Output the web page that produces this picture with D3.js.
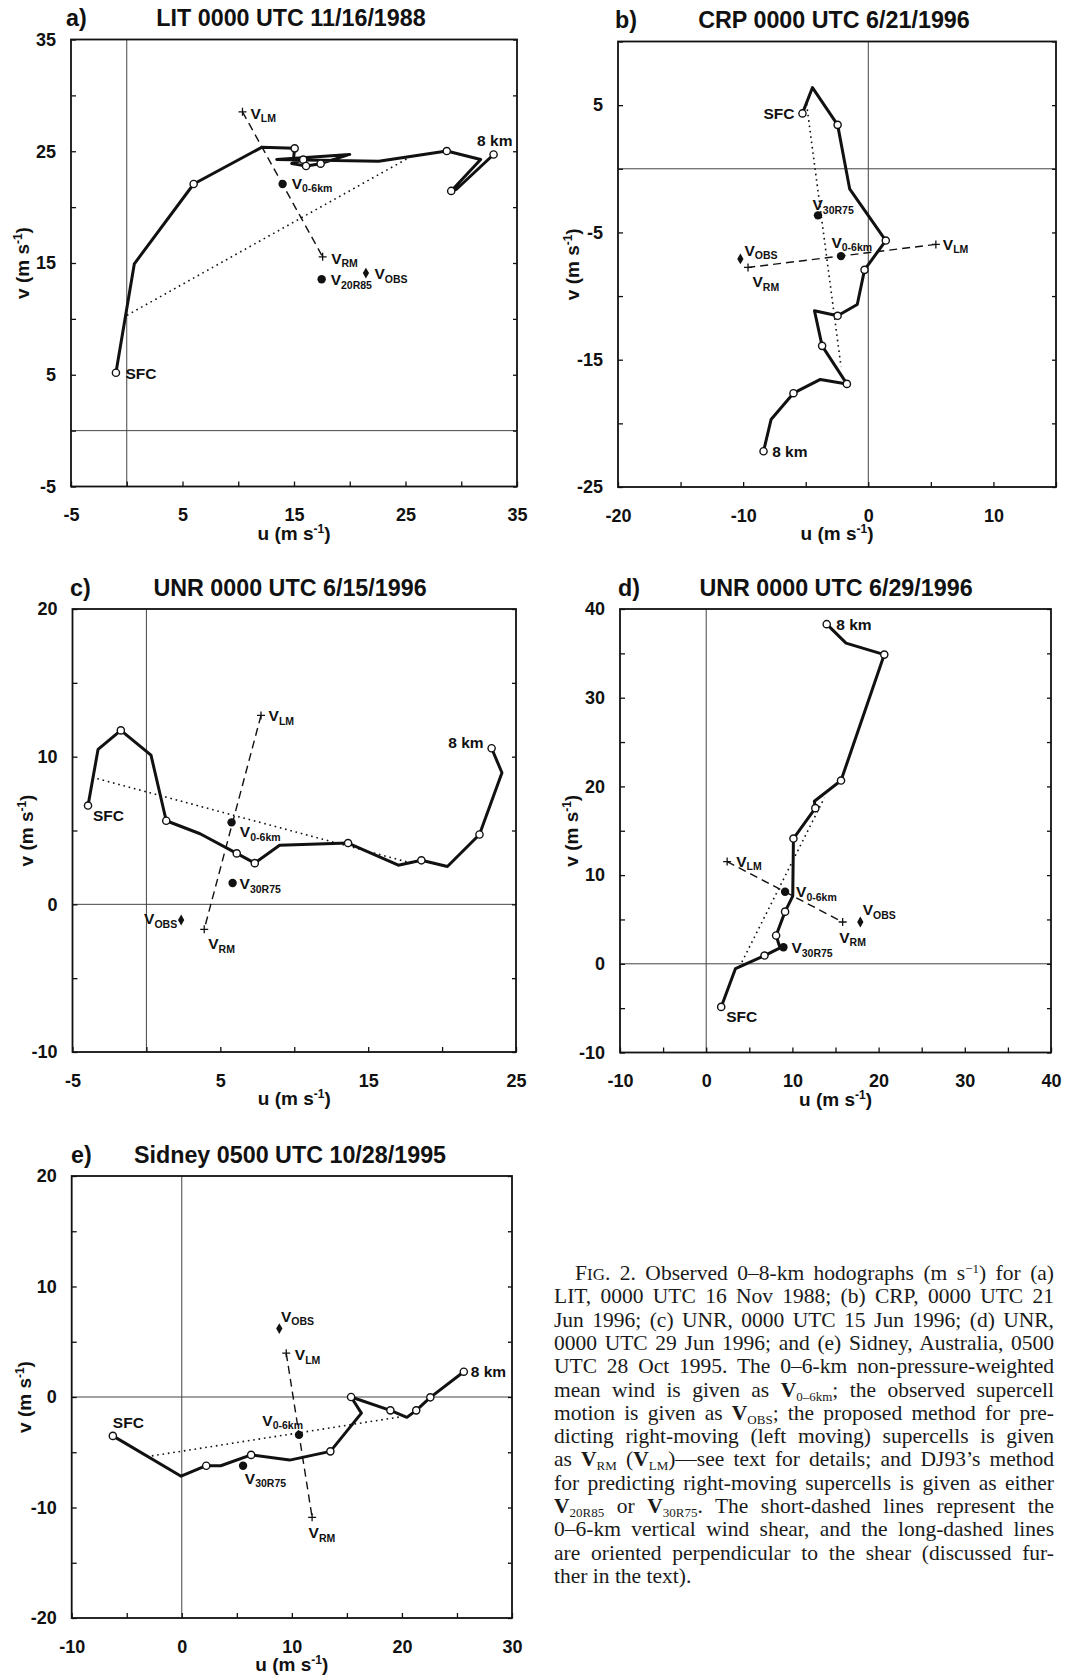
<!DOCTYPE html>
<html>
<head>
<meta charset="utf-8">
<script src="https://cdn.jsdelivr.net/npm/d3@7"></script>
<style>
  body { margin: 0; background: #fff; }
  svg { display: block; }
  .tick text { font-family: "Liberation Sans", Arial, sans-serif; font-weight: bold; font-size: 18px; fill: #111; }
  .ttl { font-family: "Liberation Sans", Arial, sans-serif; font-weight: bold; font-size: 23.3px; fill: #111; }
  .axt { font-family: "Liberation Sans", Arial, sans-serif; font-weight: bold; font-size: 19px; fill: #111; }
  .lab { font-family: "Liberation Sans", Arial, sans-serif; font-weight: bold; font-size: 15.5px; fill: #111; }
  .cap { font-family: "Liberation Serif", "Times New Roman", serif; font-size: 21.5px; fill: #1a1a1a; }
</style>
</head>
<body>
<svg id="fig" width="1071" height="1680"></svg>
<script>
// ---- a) LIT 0000 UTC 11/16/1988 ----
var litU = [-0.97, 0.68, 6.0, 12.1, 15.06, 14.95, 15.83, 14.8, 16.08, 17.39, 20.0, 13.45, 22.6, 28.7, 31.74, 29.1, 29.57, 32.9];
var litV = [5.18, 14.93, 22.07, 25.35, 25.26, 24.3, 24.25, 23.9, 23.68, 23.89, 24.72, 24.27, 24.1, 25.02, 24.26, 21.45, 21.6, 24.71];
var litRings = [0, 2, 4, 6, 8, 9, 13, 15, 17];
var litShearU = [0.02, 25.39], litShearV = [10.32, 24.47];
var litDevU = [10.38, 17.57], litDevV = [28.53, 15.55];   // V_LM, V_RM
var litMean = [13.98, 22.07];
var litDJ = [17.48, 13.55];
var litObs = [21.45, 14.1];
var litXTicks = [-5, 0, 5, 10, 15, 20, 25, 30, 35], litXLabels = [-5, 5, 15, 25, 35];
var litYTicks = [-5, 0, 5, 10, 15, 20, 25, 30, 35], litYLabels = [-5, 5, 15, 25, 35];

// ---- b) CRP 0000 UTC 6/21/1996 ----
var crpU = [-5.26, -4.46, -2.45, -1.49, 1.40, -0.30, -0.88, -2.45, -4.30, -3.69, -1.71, -3.83, -5.98, -7.77, -8.37];
var crpV = [4.35, 6.38, 3.45, -1.57, -5.64, -7.94, -10.66, -11.55, -11.15, -13.91, -16.9, -16.55, -17.63, -19.7, -22.19];
var crpRings = [0, 2, 4, 5, 7, 9, 10, 12, 14];
var crpShearU = [-4.93, -2.18], crpShearV = [5.08, -15.54];
var crpDevU = [5.40, -9.61], crpDevV = [-5.94, -7.75];
var crpMean = [-2.18, -6.86];
var crpDJ = [-4.02, -3.66];
var crpObs = [-10.22, -7.08];
var crpXTicks = [-20, -15, -10, -5, 0, 5, 10, 15], crpXLabels = [-20, -10, 0, 10];
var crpYTicks = [-25, -20, -15, -10, -5, 0, 5, 10], crpYLabels = [-25, -15, -5, 5];

// ---- c) UNR 0000 UTC 6/15/1996 ----
var unr15U = [-3.95, -3.27, -1.73, 0.31, 1.34, 3.63, 6.11, 7.33, 9.01, 13.64, 17.04, 18.6, 20.36, 22.53, 24.05, 23.35];
var unr15V = [6.69, 10.5, 11.78, 10.1, 5.66, 4.78, 3.45, 2.79, 4.0, 4.15, 2.65, 2.98, 2.56, 4.73, 8.91, 10.57];
var unr15Rings = [0, 2, 4, 6, 7, 9, 11, 13, 15];
var unr15ShearU = [-3.32, 18.09], unr15ShearV = [8.51, 2.75];
var unr15DevU = [7.75, 3.91], unr15DevV = [12.79, -1.69];
var unr15Mean = [5.76, 5.55];
var unr15DJ = [5.83, 1.44];
var unr15Obs = [2.35, -1.06];
var unr15XTicks = [-5, 0, 5, 10, 15, 20, 25], unr15XLabels = [-5, 5, 15, 25];
var unr15YTicks = [-10, -5, 0, 5, 10, 15, 20], unr15YLabels = [-10, 0, 10, 20];

// ---- d) UNR 0000 UTC 6/29/1996 ----
var unr29U = [1.74, 3.40, 6.76, 8.57, 8.11, 9.15, 10.04, 10.12, 12.66, 12.55, 15.64, 20.66, 16.22, 13.98];
var unr29V = [-4.86, -0.54, 0.93, 1.79, 3.19, 5.88, 7.63, 14.12, 17.55, 18.33, 20.66, 34.86, 36.15, 38.29];
var unr29Rings = [0, 2, 4, 5, 7, 8, 10, 11, 13];
var unr29ShearU = [3.86, 13.71], unr29ShearV = [-0.35, 18.72];
var unr29DevU = [2.43, 15.83], unr29DevV = [11.52, 4.71];
var unr29Mean = [9.15, 8.13];
var unr29DJ = [8.96, 1.87];
var unr29Obs = [17.88, 4.71];
var unr29XTicks = [-10, -5, 0, 5, 10, 15, 20, 25, 30, 35, 40], unr29XLabels = [-10, 0, 10, 20, 30, 40];
var unr29YTicks = [-10, -5, 0, 5, 10, 15, 20, 25, 30, 35, 40], unr29YLabels = [-10, 0, 10, 20, 30, 40];

// ---- e) Sidney 0500 UTC 10/28/1995 ----
var sidU = [-6.26, -0.06, 2.22, 3.54, 6.30, 9.80, 13.5, 16.32, 15.38, 18.95, 20.45, 21.3, 22.58, 25.62];
var sidV = [-3.52, -7.17, -6.22, -6.22, -5.24, -5.71, -4.92, -1.46, 0.0, -1.21, -1.84, -1.21, -0.03, 2.29];
var sidRings = [0, 2, 4, 6, 8, 9, 11, 12, 13];
var sidShearU = [-2.72, 19.98], sidShearV = [-5.33, -1.78];
var sidDevU = [9.49, 11.84], sidDevV = [3.97, -10.89];
var sidMean = [10.65, -3.43];
var sidDJ = [5.57, -6.22];
var sidObs = [8.86, 6.19];
var sidXTicks = [-10, -5, 0, 5, 10, 15, 20, 25, 30], sidXLabels = [-10, 0, 10, 20, 30];
var sidYTicks = [-20, -15, -10, -5, 0, 5, 10, 15, 20], sidYLabels = [-20, -10, 0, 10, 20];

// caption, one array entry per printed line: [style, text]
var captionLines = [
  [['n', 'F'], ['sc', 'IG'], ['n', '. 2. Observed 0–8-km hodographs (m s'], ['sup', '−1'], ['n', ') for (a)']],
  [['n', 'LIT, 0000 UTC 16 Nov 1988; (b) CRP, 0000 UTC 21']],
  [['n', 'Jun 1996; (c) UNR, 0000 UTC 15 Jun 1996; (d) UNR,']],
  [['n', '0000 UTC 29 Jun 1996; and (e) Sidney, Australia, 0500']],
  [['n', 'UTC 28 Oct 1995. The 0–6-km non-pressure-weighted']],
  [['n', 'mean wind is given as '], ['b', 'V'], ['sub', '0–6km'], ['n', '; the observed supercell']],
  [['n', 'motion is given as '], ['b', 'V'], ['sub', 'OBS'], ['n', '; the proposed method for pre-']],
  [['n', 'dicting right-moving (left moving) supercells is given']],
  [['n', 'as '], ['b', 'V'], ['sub', 'RM'], ['n', ' ('], ['b', 'V'], ['sub', 'LM'], ['n', ')—see text for details; and DJ93’s method']],
  [['n', 'for predicting right-moving supercells is given as either']],
  [['b', 'V'], ['sub', '20R85'], ['n', ' or '], ['b', 'V'], ['sub', '30R75'], ['n', '. The short-dashed lines represent the']],
  [['n', '0–6-km vertical wind shear, and the long-dashed lines']],
  [['n', 'are oriented perpendicular to the shear (discussed fur-']],
  [['n', 'ther in the text).']]
];

// layout of the five panels
var panels = [
  {id: 'a)', title: 'LIT 0000 UTC 11/16/1988', u: litU, v: litV, rings: litRings,
   shearU: litShearU, shearV: litShearV, devU: litDevU, devV: litDevV,
   mean: litMean, dj: litDJ, djSub: '20R85', obs: litObs,
   xTicks: litXTicks, xLabels: litXLabels, yTicks: litYTicks, yLabels: litYLabels,
   box: {l: 71, r: 517, t: 39.5, b: 486.5}, titleX: 291, titleY: 26, idX: 66, yTitleX: 22,
   off: {lm: [8, 7], rm: [8.5, 7], mean: [9, 5], dj: [9, 6], obs: [8.5, 6], sfc: [9.5, 6], top: [-16.5, -8.5]}},
  {id: 'b)', title: 'CRP 0000 UTC 6/21/1996', u: crpU, v: crpV, rings: crpRings,
   shearU: crpShearU, shearV: crpShearV, devU: crpDevU, devV: crpDevV,
   mean: crpMean, dj: crpDJ, djSub: '30R75', obs: crpObs,
   xTicks: crpXTicks, xLabels: crpXLabels, yTicks: crpYTicks, yLabels: crpYLabels,
   box: {l: 618, r: 1056, t: 41.5, b: 487}, titleX: 834, titleY: 28, idX: 615, yTitleX: 572,
   off: {lm: [7, 5.5], rm: [4.5, 20], mean: [-9.6, -8.6], dj: [-5.5, -5], obs: [4, -3], sfc: [-8, 6, 'end'], top: [8.6, 6]}},
  {id: 'c)', title: 'UNR 0000 UTC 6/15/1996', u: unr15U, v: unr15V, rings: unr15Rings,
   shearU: unr15ShearU, shearV: unr15ShearV, devU: unr15DevU, devV: unr15DevV,
   mean: unr15Mean, dj: unr15DJ, djSub: '30R75', obs: unr15Obs,
   xTicks: unr15XTicks, xLabels: unr15XLabels, yTicks: unr15YTicks, yLabels: unr15YLabels,
   box: {l: 72.5, r: 516, t: 609, b: 1052}, titleX: 290, titleY: 596, idX: 70, yTitleX: 26,
   off: {lm: [7.6, 6], rm: [4, 20], mean: [8.3, 14.8], dj: [7, 6], obs: [-4, 4.5, 'end'], sfc: [5, 15], top: [-8, -0.7, 'end']}},
  {id: 'd)', title: 'UNR 0000 UTC 6/29/1996', u: unr29U, v: unr29V, rings: unr29Rings,
   shearU: unr29ShearU, shearV: unr29ShearV, devU: unr29DevU, devV: unr29DevV,
   mean: unr29Mean, dj: unr29DJ, djSub: '30R75', obs: unr29Obs,
   xTicks: unr29XTicks, xLabels: unr29XLabels, yTicks: unr29YTicks, yLabels: unr29YLabels,
   box: {l: 620, r: 1051, t: 609, b: 1052.5}, titleX: 836, titleY: 596, idX: 618, yTitleX: 571,
   off: {lm: [9, 5], rm: [-3.4, 20.6], mean: [11, 5.5], dj: [8, 6], obs: [2.4, -7], sfc: [5, 15], top: [9.6, 5.5]}},
  {id: 'e)', title: 'Sidney 0500 UTC 10/28/1995', u: sidU, v: sidV, rings: sidRings,
   shearU: sidShearU, shearV: sidShearV, devU: sidDevU, devV: sidDevV,
   mean: sidMean, dj: sidDJ, djSub: '30R75', obs: sidObs,
   xTicks: sidXTicks, xLabels: sidXLabels, yTicks: sidYTicks, yLabels: sidYLabels,
   box: {l: 71.7, r: 512, t: 1176, b: 1618}, titleX: 290, titleY: 1163, idX: 71, yTitleX: 24,
   off: {lm: [8.6, 7], rm: [-3.5, 21], mean: [4, -9, 'end'], dj: [1.7, 18], obs: [1.7, -6.7], sfc: [0, -8], top: [7, 5]}}
];

var svg = d3.select('#fig');

function vLabel(g, x, y, sub, off) {
  var t = g.append('text').attr('class', 'lab')
      .attr('x', x + off[0]).attr('y', y + off[1])
      .attr('text-anchor', off[2] || 'start');
  t.append('tspan').text('V');
  t.append('tspan').attr('dy', 3.5).attr('font-size', 10.5).text(sub);
}

function plainLabel(g, x, y, txt, off) {
  g.append('text').attr('class', 'lab')
      .attr('x', x + off[0]).attr('y', y + off[1])
      .attr('text-anchor', off[2] || 'start')
      .text(txt);
}

function plus(g, x, y) {
  g.append('path')
      .attr('d', 'M' + (x - 4) + ',' + y + 'H' + (x + 4) + 'M' + x + ',' + (y - 4) + 'V' + (y + 4))
      .attr('stroke', '#111').attr('stroke-width', 1.3);
}

function drawPanel(p) {
  var b = p.box;
  var x = d3.scaleLinear().domain([p.xTicks[0], p.xTicks[p.xTicks.length - 1]]).range([b.l, b.r]);
  var y = d3.scaleLinear().domain([p.yTicks[0], p.yTicks[p.yTicks.length - 1]]).range([b.b, b.t]);
  var g = svg.append('g');

  // zero lines
  g.append('line').attr('x1', x(0)).attr('x2', x(0)).attr('y1', b.t).attr('y2', b.b)
      .attr('stroke', '#444').attr('stroke-width', 1);
  g.append('line').attr('x1', b.l).attr('x2', b.r).attr('y1', y(0)).attr('y2', y(0))
      .attr('stroke', '#444').attr('stroke-width', 1);

  // axes with inward ticks
  var fmtX = function(d) { return p.xLabels.indexOf(d) >= 0 ? String(d) : ''; };
  var fmtY = function(d) { return p.yLabels.indexOf(d) >= 0 ? String(d) : ''; };
  g.append('g').attr('transform', 'translate(0,' + b.b + ')')
      .call(d3.axisBottom(x).tickValues(p.xTicks).tickSizeInner(-5).tickSizeOuter(0).tickPadding(22).tickFormat(fmtX));
  g.append('g').attr('transform', 'translate(' + b.l + ',0)')
      .call(d3.axisLeft(y).tickValues(p.yTicks).tickSizeInner(-5).tickSizeOuter(0).tickPadding(15).tickFormat(fmtY));
  g.append('g').attr('transform', 'translate(' + b.r + ',0)')
      .call(d3.axisRight(y).tickValues(p.yTicks).tickSizeInner(-4).tickSizeOuter(0).tickFormat(''));
  g.selectAll('.domain').remove();
  g.selectAll('.tick line').attr('stroke', '#111').attr('stroke-width', 1.3);
  g.selectAll('.tick text').attr('font-size', null).attr('font-family', null);
  g.selectAll('.tick text').filter(function() { return this.textContent === ''; }).remove();

  // frame
  g.append('rect').attr('x', b.l).attr('y', b.t).attr('width', b.r - b.l).attr('height', b.b - b.t)
      .attr('fill', 'none').attr('stroke', '#111').attr('stroke-width', 1.8);

  // titles
  g.append('text').attr('class', 'ttl').attr('x', p.idX).attr('y', p.titleY).text(p.id);
  g.append('text').attr('class', 'ttl').attr('x', p.titleX).attr('y', p.titleY)
      .attr('text-anchor', 'middle').text(p.title);

  // axis titles
  var xt = g.append('text').attr('class', 'axt').attr('text-anchor', 'middle')
      .attr('x', (b.l + b.r) / 2).attr('y', b.b + 53);
  xt.append('tspan').text('u (m s');
  xt.append('tspan').attr('dy', -7).attr('font-size', 12).text('-1');
  xt.append('tspan').attr('dy', 7).text(')');
  var yt = g.append('text').attr('class', 'axt').attr('text-anchor', 'middle')
      .attr('transform', 'translate(' + (p.yTitleX + 7) + ',' + ((b.t + b.b) / 2) + ') rotate(-90)');
  yt.append('tspan').text('v (m s');
  yt.append('tspan').attr('dy', -7).attr('font-size', 12).text('-1');
  yt.append('tspan').attr('dy', 7).text(')');

  // 0-6 km shear (short dashes)
  g.append('line')
      .attr('x1', x(p.shearU[0])).attr('y1', y(p.shearV[0]))
      .attr('x2', x(p.shearU[1])).attr('y2', y(p.shearV[1]))
      .attr('stroke', '#111').attr('stroke-width', 1.6).attr('stroke-dasharray', '1.6,3.8');

  // perpendicular (long dashes) from V_LM to V_RM
  g.append('line')
      .attr('x1', x(p.devU[0])).attr('y1', y(p.devV[0]))
      .attr('x2', x(p.devU[1])).attr('y2', y(p.devV[1]))
      .attr('stroke', '#111').attr('stroke-width', 1.4).attr('stroke-dasharray', '8,5');

  // hodograph
  var pts = p.u.map(function(d, i) { return [d, p.v[i]]; });
  var line = d3.line().x(function(d) { return x(d[0]); }).y(function(d) { return y(d[1]); });
  g.append('path').datum(pts).attr('d', line)
      .attr('fill', 'none').attr('stroke', '#111').attr('stroke-width', 3).attr('stroke-linejoin', 'round');
  g.selectAll('.ring').data(p.rings).enter().append('circle')
      .attr('cx', function(i) { return x(p.u[i]); })
      .attr('cy', function(i) { return y(p.v[i]); })
      .attr('r', 3.6).attr('fill', '#fff').attr('stroke', '#111').attr('stroke-width', 1.4);

  // motion markers
  plus(g, x(p.devU[0]), y(p.devV[0]));
  plus(g, x(p.devU[1]), y(p.devV[1]));
  g.append('circle').attr('cx', x(p.mean[0])).attr('cy', y(p.mean[1])).attr('r', 4.2).attr('fill', '#111');
  g.append('circle').attr('cx', x(p.dj[0])).attr('cy', y(p.dj[1])).attr('r', 4.2).attr('fill', '#111');
  g.append('path').attr('d', d3.symbol(d3.symbolDiamond, 34)())
      .attr('transform', 'translate(' + x(p.obs[0]) + ',' + y(p.obs[1]) + ')').attr('fill', '#111');

  // labels
  var o = p.off;
  vLabel(g, x(p.devU[0]), y(p.devV[0]), 'LM', o.lm);
  vLabel(g, x(p.devU[1]), y(p.devV[1]), 'RM', o.rm);
  vLabel(g, x(p.mean[0]), y(p.mean[1]), '0-6km', o.mean);
  vLabel(g, x(p.dj[0]), y(p.dj[1]), p.djSub, o.dj);
  vLabel(g, x(p.obs[0]), y(p.obs[1]), 'OBS', o.obs);
  var n = p.u.length - 1;
  plainLabel(g, x(p.u[0]), y(p.v[0]), 'SFC', o.sfc);
  plainLabel(g, x(p.u[n]), y(p.v[n]), '8 km', o.top);
}

panels.forEach(drawPanel);

// caption, justified line by line
var capLeft = 554, capRight = 1054, capIndent = 21, capTop = 1280, capStep = 23.3;
captionLines.forEach(function(segs, li) {
  var x0 = capLeft + (li === 0 ? capIndent : 0);
  var t = svg.append('text').attr('class', 'cap').attr('x', x0).attr('y', capTop + li * capStep);
  var shift = 0, full = '';
  segs.forEach(function(s) {
    var want = s[0] === 'sub' ? 4 : (s[0] === 'sup' ? -7 : 0);
    var ts = t.append('tspan').text(s[1]);
    if (want !== shift) { ts.attr('dy', want - shift); shift = want; }
    if (s[0] === 'b') ts.attr('font-weight', 'bold');
    if (s[0] === 'sub' || s[0] === 'sup') ts.attr('font-size', 13);
    if (s[0] === 'sc') ts.attr('font-size', 17);
    full += s[1];
  });
  if (li < captionLines.length - 1) {
    var len = t.node().getComputedTextLength();
    var gaps = (full.match(/ /g) || []).length;
    if (gaps > 0) t.attr('word-spacing', ((capRight - x0) - len) / gaps);
  }
});
</script>
</body>
</html>
